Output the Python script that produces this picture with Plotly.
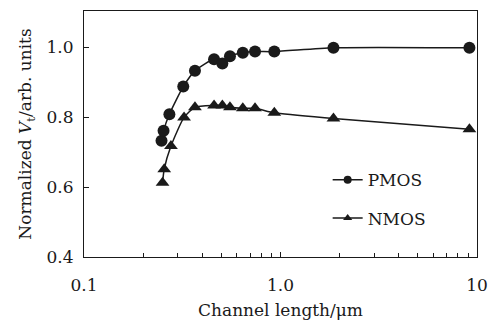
import plotly.graph_objects as go

# Data
channel_length_pmos = [0.248, 0.254, 0.272, 0.320, 0.367, 0.459, 0.506, 0.553, 0.643, 0.742, 0.930, 1.86, 9.15]
vt_pmos = [0.732, 0.761, 0.808, 0.887, 0.932, 0.965, 0.953, 0.974, 0.984, 0.987, 0.987, 0.998, 0.998]

channel_length_nmos = [0.251, 0.256, 0.277, 0.323, 0.367, 0.459, 0.506, 0.553, 0.643, 0.742, 0.930, 1.86, 9.15]
vt_nmos = [0.612, 0.651, 0.717, 0.799, 0.828, 0.833, 0.833, 0.828, 0.825, 0.825, 0.812, 0.796, 0.765]

x_tickvals = [0.1, 1, 10]
x_ticktext = ["0.1", "1.0", "10"]
x_minor = [0.2, 0.3, 0.4, 0.5, 0.6, 0.7, 0.8, 0.9, 2, 3, 4, 5, 6, 7, 8, 9]
y_tickvals = [0.4, 0.6, 0.8, 1.0]
y_ticktext = ["0.4", "0.6", "0.8", "1.0"]

FONT = "DejaVu Serif"
INK = "#1a1a1a"

fig = go.Figure()
fig.add_trace(go.Scatter(
    x=channel_length_pmos, y=vt_pmos, mode="lines+markers", name="PMOS",
    line=dict(color=INK, width=1.5, shape="spline", smoothing=0.6),
    marker=dict(symbol="circle", size=12, color=INK),
    showlegend=False))
fig.add_trace(go.Scatter(
    x=channel_length_nmos, y=vt_nmos, mode="lines+markers", name="NMOS",
    line=dict(color=INK, width=1.5, shape="spline", smoothing=0.6),
    marker=dict(symbol="triangle-up", size=12, color=INK),
    showlegend=False))
fig.add_trace(go.Scatter(
    x=[None], y=[None], mode="lines+markers", name="PMOS", legendgroup="p",
    line=dict(color=INK, width=1.5), marker=dict(symbol="circle", size=8, color=INK)))
fig.add_trace(go.Scatter(
    x=[None], y=[None], mode="lines+markers", name="NMOS", legendgroup="n",
    line=dict(color=INK, width=1.5), marker=dict(symbol="triangle-up", size=8, color=INK)))

fig.update_layout(
    width=488, height=320,
    margin=dict(l=84, r=11, t=11, b=63, autoexpand=False),
    paper_bgcolor="white", plot_bgcolor="white",
    font=dict(family=FONT, size=17, color=INK),
    legend=dict(x=0.62, y=0.385, xanchor="left", yanchor="top",
                bgcolor="rgba(0,0,0,0)", font=dict(size=17, family=FONT),
                traceorder="grouped", tracegroupgap=13, itemwidth=30),
    xaxis=dict(
        type="log", range=[-1, 1], automargin=False,
        tickvals=x_tickvals, ticktext=x_ticktext,
        ticks="inside", ticklen=5, tickcolor=INK,
        minor=dict(tickvals=x_minor, ticks="inside", ticklen=4, tickcolor=INK, showgrid=False),
        showgrid=False, zeroline=False,
        showline=True, linecolor=INK, linewidth=1.2, mirror=True,
        ticklabelstandoff=12,
        title=dict(text="Channel length/μm", standoff=14, font=dict(size=17, family=FONT)),
        tickfont=dict(size=17, family=FONT)),
    yaxis=dict(
        range=[0.4, 1.103], automargin=False,
        tickvals=y_tickvals, ticktext=y_ticktext,
        ticks="inside", ticklen=5, tickcolor=INK,
        showgrid=False, zeroline=False,
        showline=True, linecolor=INK, linewidth=1.2, mirror=True,
        ticklabelstandoff=6,
        title=dict(text="Normalized <i>V</i><sub>t</sub>/arb. units", standoff=10, font=dict(size=17, family=FONT)),
        tickfont=dict(size=17, family=FONT)),
)

fig.write_html("out.html")
